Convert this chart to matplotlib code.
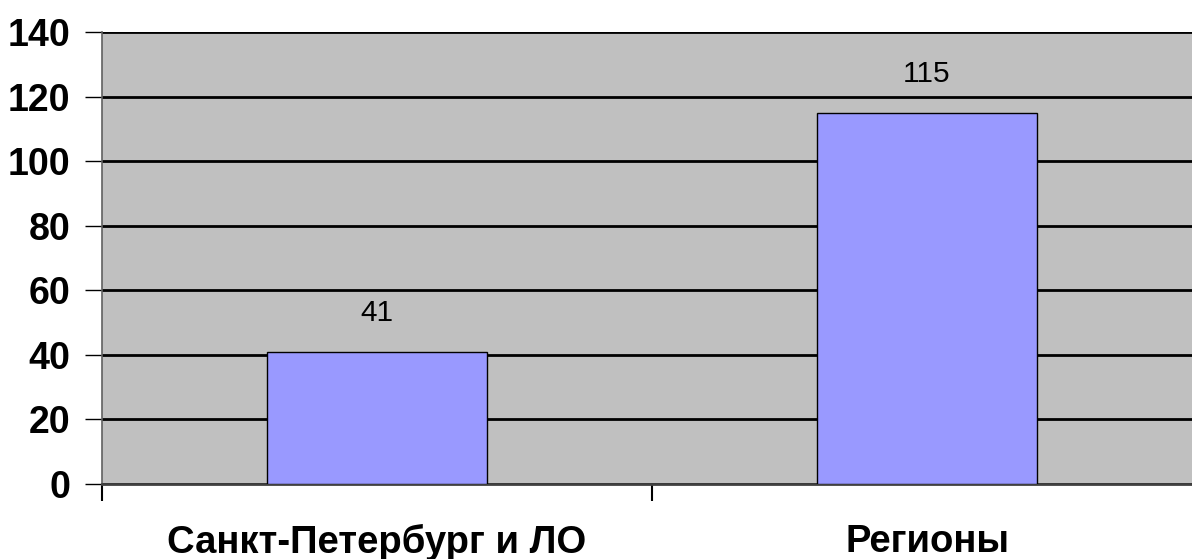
import matplotlib
matplotlib.use("Agg")
import matplotlib.pyplot as plt

categories = ["Санкт-Петербург и ЛО", "Регионы"]
values = [41, 115]
yticks = [0, 20, 40, 60, 80, 100, 120, 140]

W, H = 1192, 559
fig = plt.figure(figsize=(W / 100, H / 100), dpi=100)
left, right, top, bottom = 102, 1202, 32, 484
ax = fig.add_axes([left / W, (H - bottom) / H, (right - left) / W, (bottom - top) / H])
ax.set_facecolor("#C0C0C0")

font = ["Liberation Sans", "DejaVu Sans"]
xpos = [0.5, 1.5]
ax.bar(xpos, values, width=0.4, color="#9999FF", edgecolor="black", linewidth=1, zorder=3)
for x, v in zip(xpos, values):
    ax.annotate(str(v), (x, v), xytext=(0, 28), textcoords="offset points",
                ha="center", va="center", fontsize=21.5, family=font, zorder=4)

ax.set_xlim(0, 2)
ax.set_ylim(0, 140)
ax.set_yticks(yticks)
ax.set_yticklabels([str(t) for t in yticks], fontsize=27, fontweight="bold", family=font)
ax.yaxis.grid(True, color="black", linewidth=2, zorder=1)
ax.set_axisbelow(True)

ax.set_xticks([0, 1, 2])
ax.set_xticklabels([])
ax.set_xticks(xpos, minor=True)
ax.set_xticklabels(categories, minor=True, fontsize=27.5, fontweight="bold", family=font)
ax.tick_params(axis="x", which="minor", length=0, pad=29)
ax.tick_params(axis="x", which="major", length=12, width=1.5, color="black")
ax.tick_params(axis="y", length=12, width=1, color="black", pad=11)

for s in ["top", "right"]:
    ax.spines[s].set_visible(False)
ax.spines["left"].set_color("#606060")
ax.spines["left"].set_linewidth(1.2)
ax.spines["bottom"].set_color("#404040")
ax.spines["bottom"].set_linewidth(2)

fig.savefig("out.png", dpi=100)
